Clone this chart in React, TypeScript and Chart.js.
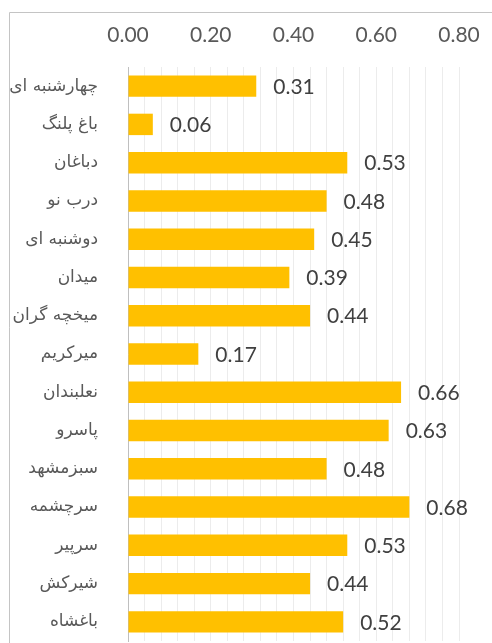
import React, { useEffect, useRef } from "react";
import { Chart, registerables } from "chart.js";

Chart.register(...registerables);

const categories: string[] = [
  "چهارشنبه ای",
  "باغ پلنگ",
  "دباغان",
  "درب نو",
  "دوشنبه ای",
  "میدان",
  "میخچه گران",
  "میرکریم",
  "نعلبندان",
  "پاسرو",
  "سبزمشهد",
  "سرچشمه",
  "سرپیر",
  "شیرکش",
  "باغشاه",
];

const values: number[] = [
  0.31, 0.06, 0.53, 0.48, 0.45, 0.39, 0.44, 0.17, 0.66, 0.63, 0.48, 0.68, 0.53, 0.44, 0.52,
];

const tickLabels: string[] = ["0.00", "0.20", "0.40", "0.60", "0.80"];

const BAR_COLOR = "#FFC000";
const TEXT_COLOR = "#595959";
const LABEL_COLOR = "#404040";
const NUM_FONT = "Lato, 'Open Sans', sans-serif";
const AR_FONT = "'DejaVu Sans', sans-serif";

const framePlugin = {
  id: "frame",
  beforeDraw(chart: any) {
    const ctx = chart.ctx;
    ctx.save();
    ctx.fillStyle = "#ffffff";
    ctx.fillRect(0, 0, chart.width, chart.height);
    ctx.strokeStyle = "#c4c4c4";
    ctx.lineWidth = 1;
    ctx.beginPath();
    ctx.moveTo(9.5, chart.height);
    ctx.lineTo(9.5, 12.5);
    ctx.lineTo(chart.width, 12.5);
    ctx.stroke();
    ctx.restore();
  },
};

const dataLabelPlugin = {
  id: "dataLabels",
  afterDatasetsDraw(chart: any) {
    const ctx = chart.ctx;
    const meta = chart.getDatasetMeta(0);
    ctx.save();
    ctx.fillStyle = LABEL_COLOR;
    ctx.font = `21px ${NUM_FONT}`;
    ctx.textAlign = "left";
    ctx.textBaseline = "middle";
    meta.data.forEach((el: any, i: number) => {
      const v = chart.data.datasets[0].data[i] as number;
      ctx.fillText(v.toFixed(2), el.x + 17, el.y + 1);
    });
    ctx.restore();
  },
};

export default function App() {
  const ref = useRef<HTMLCanvasElement | null>(null);
  useEffect(() => {
    if (!ref.current) return;
    const chart = new Chart(ref.current, {
      type: "bar",
      data: {
        labels: categories,
        datasets: [
          {
            data: values,
            backgroundColor: BAR_COLOR,
            borderWidth: 0,
            barPercentage: 0.56,
            categoryPercentage: 1,
          },
        ],
      },
      options: {
        indexAxis: "y",
        responsive: false,
        animation: false,
        layout: { padding: { left: 0, right: 33, top: 0, bottom: 2 } },
        plugins: {
          legend: { display: false },
          tooltip: { enabled: false },
        },
        scales: {
          x: {
            position: "top",
            min: 0,
            max: 0.8,
            afterFit: (s: any) => {
              s.height = 67;
              s.paddingLeft = 0;
              s.paddingRight = 0;
            },
            ticks: {
              stepSize: 0.04,
              autoSkip: false,
              maxRotation: 0,
              padding: 19,
              color: TEXT_COLOR,
              font: { family: NUM_FONT, size: 21 },
              callback: (value: any) => {
                const k = Math.round(Number(value) * 100);
                if (k % 20 !== 0) return "";
                return tickLabels[k / 20];
              },
            },
            grid: { color: "#ececec", drawTicks: false },
            border: { display: false },
          },
          y: {
            afterFit: (s: any) => {
              s.width = 128;
              s.paddingTop = 0;
              s.paddingBottom = 0;
            },
            ticks: {
              padding: 22,
              color: TEXT_COLOR,
              font: { family: AR_FONT, size: 17 },
            },
            grid: { display: false },
            border: { display: true, color: "#bfbfbf", width: 1 },
          },
        },
      },
      plugins: [framePlugin, dataLabelPlugin],
    });
    return () => chart.destroy();
  }, []);
  return (
    <div style={{ position: "absolute", left: 0, top: 0, width: 492, height: 643, overflow: "hidden" }}>
      <canvas ref={ref} width={492} height={643} style={{ display: "block" }} />
    </div>
  );
}
